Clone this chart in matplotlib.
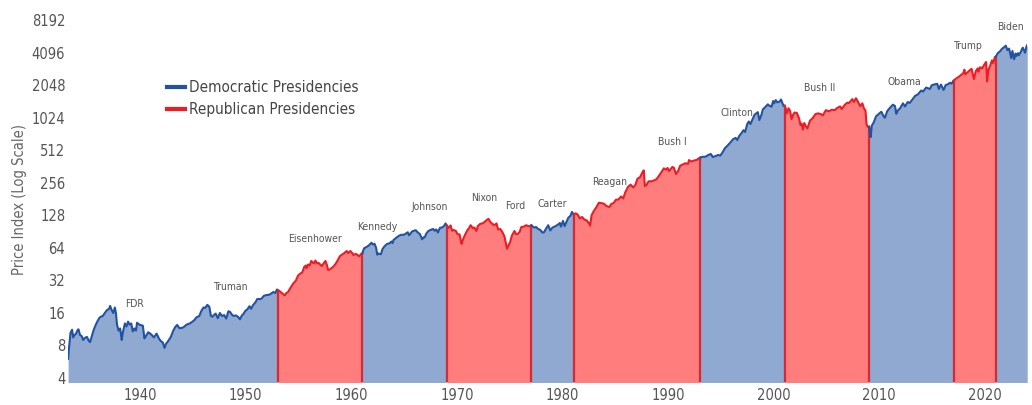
import numpy as np
import matplotlib
import matplotlib.pyplot as plt
from matplotlib.lines import Line2D
matplotlib.use('Agg')

# S&P price index (year, level)
years = [
    # FDR / Truman
    1933.17, 1933.25, 1933.40, 1933.55, 1933.65, 1933.75, 1933.90, 1934.05, 1934.15, 1934.30,
    1934.45, 1934.60, 1934.75, 1934.95, 1935.15, 1935.25, 1935.45, 1935.60, 1935.80, 1935.95,
    1936.15, 1936.30, 1936.45, 1936.65, 1936.85, 1937.05, 1937.15, 1937.30, 1937.45, 1937.60,
    1937.70, 1937.80, 1937.95, 1938.10, 1938.25, 1938.35, 1938.55, 1938.70, 1938.85, 1939.00,
    1939.15, 1939.30, 1939.45, 1939.60, 1939.70, 1939.85, 1940.00, 1940.25, 1940.40, 1940.55,
    1940.75, 1940.90, 1941.10, 1941.30, 1941.55, 1941.80, 1941.95, 1942.15, 1942.30, 1942.45,
    1942.65, 1942.90, 1943.10, 1943.30, 1943.50, 1943.70, 1943.90, 1944.10, 1944.40, 1944.70,
    1944.95, 1945.15, 1945.30, 1945.45, 1945.60, 1945.80, 1946.00, 1946.15, 1946.35, 1946.45,
    1946.55, 1946.70, 1946.85, 1947.00, 1947.15, 1947.35, 1947.55, 1947.75, 1947.95, 1948.15,
    1948.35, 1948.50, 1948.70, 1948.85, 1949.05, 1949.25, 1949.45, 1949.60, 1949.80, 1949.95,
    1950.15, 1950.35, 1950.50, 1950.70, 1950.90, 1951.10, 1951.35, 1951.50, 1951.70, 1951.95,
    1952.15, 1952.35, 1952.60, 1952.80, 1952.95,
    # Eisenhower
    1953.05, 1953.20, 1953.45, 1953.70, 1953.85, 1954.00, 1954.25, 1954.50, 1954.75, 1954.95,
    1955.15, 1955.35, 1955.55, 1955.70, 1955.75, 1955.90, 1956.05, 1956.20, 1956.30, 1956.45,
    1956.60, 1956.75, 1956.90, 1957.05, 1957.20, 1957.40, 1957.55, 1957.70, 1957.80, 1957.95,
    1958.10, 1958.30, 1958.50, 1958.70, 1958.90, 1959.10, 1959.30, 1959.55, 1959.70, 1959.90,
    1960.05, 1960.20, 1960.40, 1960.55, 1960.75, 1960.90,
    # Kennedy / Johnson
    1961.05, 1961.20, 1961.45, 1961.65, 1961.90, 1962.05, 1962.20, 1962.35, 1962.45, 1962.55,
    1962.80, 1962.95, 1963.15, 1963.40, 1963.60, 1963.80, 1963.90, 1964.00, 1964.25, 1964.50,
    1964.75, 1964.95, 1965.15, 1965.35, 1965.45, 1965.55, 1965.75, 1965.95, 1966.10, 1966.30,
    1966.50, 1966.70, 1966.85, 1966.95, 1967.10, 1967.30, 1967.55, 1967.75, 1967.90, 1968.05,
    1968.20, 1968.40, 1968.60, 1968.80, 1968.92,
    # Nixon / Ford
    1969.05, 1969.20, 1969.40, 1969.55, 1969.70, 1969.90, 1970.05, 1970.25, 1970.40, 1970.45,
    1970.60, 1970.75, 1970.95, 1971.15, 1971.30, 1971.50, 1971.65, 1971.85, 1971.98, 1972.20,
    1972.40, 1972.60, 1972.85, 1973.00, 1973.15, 1973.35, 1973.55, 1973.75, 1973.90, 1974.10,
    1974.30, 1974.50, 1974.65, 1974.75, 1974.90, 1975.05, 1975.20, 1975.45, 1975.60, 1975.75,
    1975.95, 1976.10, 1976.35, 1976.55, 1976.75, 1976.90,
    # Carter
    1977.05, 1977.30, 1977.50, 1977.70, 1977.90, 1978.10, 1978.25, 1978.45, 1978.65, 1978.85,
    1979.05, 1979.30, 1979.55, 1979.75, 1979.85, 1980.05, 1980.20, 1980.35, 1980.55, 1980.75,
    1980.90,
    # Reagan / Bush I
    1981.05, 1981.25, 1981.45, 1981.65, 1981.85, 1982.05, 1982.30, 1982.55, 1982.62, 1982.75,
    1982.95, 1983.20, 1983.45, 1983.75, 1983.95, 1984.15, 1984.45, 1984.60, 1984.85, 1985.05,
    1985.30, 1985.55, 1985.75, 1985.95, 1986.20, 1986.45, 1986.70, 1986.90, 1987.10, 1987.35,
    1987.60, 1987.70, 1987.80, 1987.95, 1988.15, 1988.40, 1988.65, 1988.90, 1989.10, 1989.35,
    1989.60, 1989.80, 1989.95, 1990.10, 1990.40, 1990.55, 1990.75, 1990.95, 1991.15, 1991.40,
    1991.65, 1991.90, 1991.98, 1992.20, 1992.45, 1992.70, 1992.90,
    # Clinton
    1993.05, 1993.30, 1993.55, 1993.80, 1994.05, 1994.25, 1994.50, 1994.75, 1994.95, 1995.15,
    1995.40, 1995.65, 1995.95, 1996.15, 1996.40, 1996.55, 1996.75, 1996.95, 1997.15, 1997.30,
    1997.50, 1997.65, 1997.80, 1997.95, 1998.20, 1998.50, 1998.65, 1998.85, 1998.98, 1999.20,
    1999.45, 1999.60, 1999.80, 1999.95, 2000.05, 2000.20, 2000.35, 2000.55, 2000.70, 2000.85,
    2000.95,
    # Bush II
    2001.05, 2001.15, 2001.25, 2001.40, 2001.55, 2001.70, 2001.85, 2001.98, 2002.20, 2002.40,
    2002.55, 2002.65, 2002.78, 2002.90, 2003.05, 2003.20, 2003.45, 2003.70, 2003.95, 2004.20,
    2004.50, 2004.65, 2004.95, 2005.25, 2005.50, 2005.80, 2005.98, 2006.30, 2006.45, 2006.75,
    2006.98, 2007.15, 2007.45, 2007.60, 2007.80, 2007.95, 2008.20, 2008.40, 2008.55, 2008.70,
    2008.80, 2008.90,
    # Obama
    2009.05, 2009.15, 2009.19, 2009.30, 2009.50, 2009.70, 2009.95, 2010.20, 2010.45, 2010.55,
    2010.75, 2010.98, 2011.30, 2011.50, 2011.62, 2011.75, 2011.98, 2012.25, 2012.45, 2012.70,
    2012.90, 2013.10, 2013.40, 2013.65, 2013.98, 2014.15, 2014.45, 2014.80, 2014.98, 2015.35,
    2015.50, 2015.65, 2015.85, 2016.10, 2016.30, 2016.50, 2016.70, 2016.85,
    # Trump
    2017.05, 2017.30, 2017.55, 2017.80, 2017.98, 2018.07, 2018.15, 2018.35, 2018.60, 2018.75,
    2018.85, 2018.98, 2019.15, 2019.33, 2019.40, 2019.55, 2019.75, 2019.98, 2020.13, 2020.22,
    2020.35, 2020.55, 2020.68, 2020.80, 2020.95,
    # Biden
    2021.05, 2021.25, 2021.45, 2021.65, 2021.85, 2021.99, 2022.15, 2022.30, 2022.45, 2022.50,
    2022.62, 2022.78, 2022.92, 2022.99, 2023.15, 2023.22, 2023.40, 2023.55, 2023.60, 2023.82,
    2023.95, 2024.02,
]

price_index = [
    # FDR / Truman
    6.0, 7.5, 10.5, 11.2, 9.5, 10.0, 10.2, 11.0, 11.3, 10.0,
    9.8, 9.0, 9.4, 9.6, 8.8, 8.6, 10.0, 11.2, 12.5, 13.4,
    14.5, 14.8, 15.0, 16.0, 17.0, 17.5, 18.6, 17.0, 16.0, 18.0,
    16.0, 12.5, 11.0, 11.5, 9.0, 10.5, 12.8, 12.0, 13.3, 12.5,
    12.8, 10.8, 11.5, 11.0, 13.0, 12.6, 12.4, 12.2, 9.3, 9.8,
    10.6, 10.4, 10.0, 9.5, 10.3, 9.2, 8.8, 8.5, 7.6, 8.3,
    8.8, 9.6, 10.8, 11.8, 12.4, 11.6, 11.6, 11.8, 12.5, 12.8,
    13.3, 13.8, 14.5, 14.8, 15.0, 16.8, 18.0, 17.8, 19.0, 18.7,
    18.2, 15.0, 14.8, 15.4, 15.8, 14.3, 16.0, 15.0, 15.3, 14.2,
    16.6, 16.4, 15.4, 15.0, 15.2, 14.8, 14.0, 15.0, 15.8, 16.7,
    17.3, 18.5, 17.5, 19.0, 20.0, 21.6, 21.5, 21.8, 23.0, 23.5,
    23.5, 24.0, 25.0, 24.5, 26.4,
    # Eisenhower
    26.0, 25.5, 24.3, 23.3, 24.5, 25.0, 27.5, 30.0, 32.0, 35.5,
    37.0, 38.0, 43.0, 44.0, 41.5, 45.0, 44.0, 48.5, 47.5, 46.0,
    49.0, 46.0, 46.5, 45.0, 43.5, 46.5, 48.5, 44.0, 40.0, 40.5,
    41.5, 43.0, 45.5, 49.0, 53.5, 55.5, 57.0, 60.0, 57.5, 60.0,
    58.0, 55.0, 56.5, 55.5, 53.5, 56.0,
    # Kennedy / Johnson
    57.5, 63.5, 65.5, 67.5, 71.5, 69.0, 70.0, 64.0, 55.5, 57.0,
    56.0, 62.5, 66.5, 70.0, 70.5, 73.5, 71.0, 76.0, 79.5, 83.0,
    85.0, 84.5, 87.0, 89.5, 84.0, 85.5, 91.0, 92.5, 93.5, 89.0,
    86.0, 77.0, 80.5, 80.3, 87.0, 92.0, 94.5, 96.0, 92.5, 95.0,
    89.0, 98.5, 99.0, 103.0, 108.0,
    # Nixon / Ford
    103.0, 98.0, 103.5, 92.5, 94.0, 92.0, 86.0, 85.5, 72.0, 70.0,
    78.0, 84.0, 92.0, 98.0, 104.0, 98.0, 99.0, 92.0, 102.0, 107.0,
    108.0, 111.0, 117.0, 119.0, 112.0, 107.0, 104.0, 108.0, 95.0, 96.0,
    90.0, 82.0, 70.0, 63.0, 68.0, 73.0, 83.0, 92.0, 86.0, 86.0,
    90.5, 100.0, 101.0, 104.0, 102.0, 102.0,
    # Carter
    104.0, 99.0, 100.0, 96.0, 94.0, 89.0, 89.5, 97.0, 104.0, 93.0,
    99.0, 101.5, 105.0, 109.0, 101.0, 114.0, 102.0, 110.0, 122.0, 127.0,
    138.0,
    # Reagan / Bush I
    131.0, 134.0, 130.0, 120.0, 124.0, 118.0, 115.0, 107.0, 103.0, 128.0,
    140.0, 152.0, 168.0, 166.0, 164.0, 157.0, 153.0, 163.0, 167.0, 179.0,
    180.0, 192.0, 184.0, 210.0, 235.0, 247.0, 233.0, 245.0, 280.0, 290.0,
    325.0, 335.0, 240.0, 245.0, 265.0, 265.0, 270.0, 277.0, 295.0, 320.0,
    350.0, 340.0, 353.0, 330.0, 360.0, 355.0, 310.0, 330.0, 370.0, 380.0,
    390.0, 385.0, 417.0, 405.0, 413.0, 418.0, 432.0,
    # Clinton
    440, 448, 448, 465, 475, 445, 455, 465, 460, 490,
    540, 570, 615, 650, 670, 640, 700, 740, 790, 760,
    900, 950, 900, 970, 1100, 1160, 980, 1100, 1230, 1290,
    1370, 1330, 1300, 1470, 1400, 1500, 1430, 1450, 1520, 1390,
    1320,
    # Bush II
    1330, 1250, 1130, 1260, 1200, 1000, 1100, 1150, 1140, 1020,
    880, 910, 800, 920, 860, 820, 970, 1020, 1110, 1130,
    1110, 1080, 1210, 1180, 1220, 1210, 1260, 1310, 1240, 1360,
    1420, 1410, 1530, 1440, 1560, 1470, 1320, 1400, 1260, 1200,
    900, 850,
    # Obama
    850, 730, 680, 870, 940, 1060, 1115, 1170, 1050, 1030,
    1180, 1260, 1360, 1320, 1120, 1200, 1260, 1400, 1310, 1440,
    1410, 1500, 1640, 1690, 1840, 1800, 1960, 1900, 2060, 2110,
    2120, 1900, 2090, 1860, 2070, 2100, 2170, 2130,
    # Trump
    2270, 2380, 2470, 2580, 2680, 2870, 2600, 2700, 2850, 2920,
    2650, 2350, 2780, 2950, 2750, 3020, 2950, 3230, 3380, 2240,
    2850, 3200, 3500, 3300, 3750,
    # Biden
    3800, 4100, 4250, 4500, 4650, 4790, 4350, 4500, 3900, 3670,
    4280, 3580, 4050, 3840, 4080, 3900, 4170, 4500, 4590, 4120,
    4700, 4850,
]

presidents = ['FDR', 'Truman', 'Eisenhower', 'Kennedy', 'Johnson', 'Nixon', 'Ford',
              'Carter', 'Reagan', 'Bush I', 'Clinton', 'Bush II', 'Obama', 'Trump', 'Biden']
parties = ['D', 'D', 'R', 'D', 'D', 'R', 'R', 'D', 'R', 'R', 'D', 'R', 'D', 'R', 'D']
term_starts = [1933.17, 1945.28, 1953.05, 1961.05, 1963.89, 1969.05, 1974.60, 1977.05,
               1981.05, 1989.05, 1993.05, 2001.05, 2009.05, 2017.05, 2021.05]

year_ticks = [1940, 1950, 1960, 1970, 1980, 1990, 2000, 2010, 2020]
level_ticks = [4, 8, 16, 32, 64, 128, 256, 512, 1024, 2048, 4096, 8192]

# where the name labels sit (year, level)
label_spots = [(1939.5, 19.4), (1948.5, 27.9), (1956.55, 77.5), (1962.5, 100), (1967.4, 154),
               (1972.55, 186), (1975.5, 157), (1979.0, 164), (1984.5, 262), (1990.45, 614),
               (1996.5, 1139), (2004.4, 1941), (2012.4, 2208), (2018.4, 4756), (2022.4, 7130)]

FILL = {'D': '#8fa9d0', 'R': '#ff7d7d'}
LINE = {'D': '#2152a3', 'R': '#ec1c24'}
EDGE = '#d42a35'

plt.rcParams['font.family'] = ['DejaVu Sans']
plt.rcParams['font.stretch'] = 'condensed'

x = np.array(years)
y = np.array(price_index, dtype=float)
x_end = 2024.0
y_lo, y_hi = 3.672, 11400

fig = plt.figure(figsize=(10.32, 4.05), dpi=100)
ax = fig.add_axes([68 / 1032, 23 / 405, 959 / 1032, 377 / 405])

# merge consecutive terms of the same party into coloured blocks
blocks = []
for start, party in zip(term_starts, parties):
    if blocks and blocks[-1][2] == party:
        continue
    if blocks:
        blocks[-1][1] = start
    blocks.append([start, x_end + 1, party])

for start, end, party in blocks:
    m = (x >= start - 1e-6) & (x <= end + 1e-6)
    ax.fill_between(x[m], 1, y[m], color=FILL[party], linewidth=0, zorder=1)
    ax.plot(x[m], y[m], color=LINE[party], linewidth=1.5, zorder=3)

for start, end, party in blocks[1:]:
    i = int(np.argmin(np.abs(x - start)))
    ax.vlines(start, y_lo, y[i], color=EDGE, linewidth=1.6, zorder=2)

for name, (px, py) in zip(presidents, label_spots):
    ax.text(px, py, name, ha='center', va='center', fontsize=7.5, color='#555555')

ax.set_yscale('log', base=2)
ax.set_xlim(1933.16, x_end)
ax.set_ylim(y_lo, y_hi)
ax.set_xticks(year_ticks)
ax.set_xticklabels([str(t) for t in year_ticks])
ax.set_yticks(level_ticks)
ax.set_yticklabels([str(t) for t in level_ticks])
ax.minorticks_off()
ax.tick_params(length=0, labelsize=10.5, labelcolor='#555555')
ax.tick_params(axis='x', pad=4)
ax.tick_params(axis='y', pad=2)
for s in ax.spines.values():
    s.set_visible(False)

ax.set_ylabel('Price Index (Log Scale)', fontsize=10.5, color='#666666')
ax.yaxis.set_label_coords(-0.043, 0.483)

handles = [Line2D([0], [0], color=LINE['D'], linewidth=3),
           Line2D([0], [0], color=LINE['R'], linewidth=3)]
ax.legend(handles, ['Democratic Presidencies', 'Republican Presidencies'],
          loc='upper left', bbox_to_anchor=(0.103, 0.80), frameon=False,
          borderpad=0, borderaxespad=0,
          fontsize=11, handlelength=1.2, handletextpad=0.25, labelspacing=0.45,
          labelcolor='#444444')

fig.savefig('out.png', dpi=100)
